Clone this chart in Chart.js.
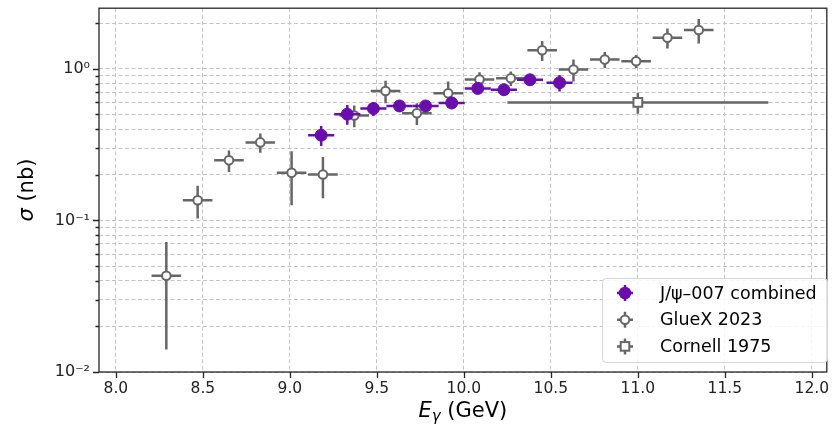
<!DOCTYPE html>
<html>
<head>
<meta charset="utf-8">
<script src="https://cdn.jsdelivr.net/npm/chart.js@4"></script>
<style>
  body { margin: 0; background: #fff; }
  canvas { display: block; }
</style>
</head>
<body>
<canvas id="chart" width="835" height="431"></canvas>
<script>
// J/psi-007 combined
const jpsiE = [9.18, 9.33, 9.48, 9.63, 9.78, 9.93, 10.08, 10.23, 10.38, 10.55];
const jpsiSigma = [0.365, 0.502, 0.547, 0.569, 0.569, 0.596, 0.743, 0.728, 0.847, 0.810];
const jpsiErr = [0.055, 0.075, 0.058, 0.05, 0.05, 0.055, 0.055, 0.055, 0.06, 0.10];
const jpsiBinHalf = 0.075;

// GlueX 2023
const gluexE = [8.29, 8.47, 8.65, 8.83, 9.01, 9.19, 9.37, 9.55, 9.73, 9.91,
                10.09, 10.27, 10.45, 10.63, 10.81, 10.99, 11.17, 11.35];
const gluexSigma = [0.0431, 0.136, 0.249, 0.327, 0.206, 0.201, 0.492, 0.714, 0.509, 0.689,
                    0.85, 0.866, 1.326, 0.989, 1.151, 1.123, 1.604, 1.802];
const gluexErr = [0.029, 0.033, 0.04, 0.047, 0.08, 0.061, 0.08, 0.12, 0.083, 0.135,
                  0.1, 0.095, 0.2, 0.165, 0.14, 0.11, 0.24, 0.33];
const gluexBinHalf = 0.085;

// Cornell 1975
const cornellE = [11.0];
const cornellSigma = [0.60];
const cornellErr = [0.095];
const cornellBinHalf = 0.75;

const xTicks = [8.0, 8.5, 9.0, 9.5, 10.0, 10.5, 11.0, 11.5, 12.0];
const yTicks = [0.01, 0.02, 0.03, 0.04, 0.05, 0.06, 0.07, 0.08, 0.09,
                0.1, 0.2, 0.3, 0.4, 0.5, 0.6, 0.7, 0.8, 0.9, 1, 2];
const yTickLabels = {0.01: '10\u207B\u00B2', 0.1: '10\u207B\u00B9', 1: '10\u2070'};

const PURPLE = '#6a0dad';
const GREY = '#666666';
const FONT = "'DejaVu Sans'";

function points(xs, ys) {
    return xs.map((x, i) => ({x: x, y: ys[i]}));
}

// error bars, drawn just before the markers of each dataset
const errorBars = {
    id: 'errorBars',
    beforeDatasetDraw(chart, args) {
        const ds = chart.data.datasets[args.index];
        if (!ds.yErr) return;
        const sx = chart.scales.x, sy = chart.scales.y, ctx = chart.ctx;
        const a = chart.chartArea;
        ctx.save();
        ctx.beginPath();
        ctx.rect(a.left, a.top, a.right - a.left, a.bottom - a.top);
        ctx.clip();
        ctx.strokeStyle = ds.borderColor;
        ctx.lineWidth = 2.5;
        ds.data.forEach((p, k) => {
            const px = sx.getPixelForValue(p.x);
            const py = sy.getPixelForValue(p.y);
            ctx.beginPath();
            ctx.moveTo(sx.getPixelForValue(p.x - ds.xHalf), py);
            ctx.lineTo(sx.getPixelForValue(p.x + ds.xHalf), py);
            ctx.moveTo(px, sy.getPixelForValue(Math.max(p.y - ds.yErr[k], 1e-4)));
            ctx.lineTo(px, sy.getPixelForValue(p.y + ds.yErr[k]));
            ctx.stroke();
        });
        ctx.restore();
    }
};

function legendMarker(ctx, kind, x, y) {
    ctx.save();
    ctx.lineWidth = 2.5;
    ctx.strokeStyle = kind === 'jpsi' ? PURPLE : GREY;
    ctx.beginPath();
    ctx.moveTo(x - 8, y); ctx.lineTo(x + 8, y);
    ctx.moveTo(x, y - 8); ctx.lineTo(x, y + 8);
    ctx.stroke();
    ctx.lineWidth = 2;
    if (kind === 'jpsi') {
        ctx.fillStyle = PURPLE;
        ctx.beginPath(); ctx.arc(x, y, 6.3, 0, Math.PI * 2); ctx.fill();
    } else if (kind === 'gluex') {
        ctx.fillStyle = '#fff';
        ctx.beginPath(); ctx.arc(x, y, 4.3, 0, Math.PI * 2); ctx.fill(); ctx.stroke();
    } else {
        ctx.fillStyle = '#fff';
        ctx.fillRect(x - 4.3, y - 4.3, 8.6, 8.6);
        ctx.strokeRect(x - 4.3, y - 4.3, 8.6, 8.6);
    }
    ctx.restore();
}

// frame, tick marks, axis titles and legend
const decorations = {
    id: 'decorations',
    afterDraw(chart) {
        const ctx = chart.ctx, a = chart.chartArea;
        const sx = chart.scales.x, sy = chart.scales.y;
        ctx.save();
        ctx.strokeStyle = '#262626';
        ctx.lineWidth = 1.3;
        ctx.strokeRect(a.left, a.top, a.right - a.left, a.bottom - a.top);
        ctx.beginPath();
        xTicks.forEach(v => {
            const px = Math.round(sx.getPixelForValue(v)) + 0.5;
            ctx.moveTo(px, a.bottom); ctx.lineTo(px, a.bottom + 6);
        });
        yTicks.forEach(v => {
            const py = Math.round(sy.getPixelForValue(v)) + 0.5;
            const len = yTickLabels[v] ? 6 : 3.5;
            ctx.moveTo(a.left, py); ctx.lineTo(a.left - len, py);
        });
        ctx.stroke();

        // axis titles
        ctx.fillStyle = '#000';
        ctx.textBaseline = 'alphabetic';
        ctx.save();
        ctx.translate(33, (a.top + a.bottom) / 2);
        ctx.rotate(-Math.PI / 2);
        const s1 = '\u03C3';
        ctx.font = 'italic 21px ' + FONT;
        const w1 = ctx.measureText(s1).width;
        ctx.font = '21px ' + FONT;
        const s2 = ' (nb)';
        const w2 = ctx.measureText(s2).width;
        let x0 = -(w1 + w2) / 2;
        ctx.font = 'italic 21px ' + FONT;
        ctx.fillText(s1, x0, 0);
        ctx.font = '21px ' + FONT;
        ctx.fillText(s2, x0 + w1, 0);
        ctx.restore();

        const cx = (a.left + a.right) / 2, by = 417;
        ctx.font = 'italic 21px ' + FONT;
        const wE = ctx.measureText('E').width;
        ctx.font = 'italic 15px ' + FONT;
        const wG = ctx.measureText('\u03B3').width;
        ctx.font = '21px ' + FONT;
        const wU = ctx.measureText(' (GeV)').width;
        let xx = cx - (wE + wG + wU) / 2;
        ctx.font = 'italic 21px ' + FONT;
        ctx.fillText('E', xx, by);
        ctx.font = 'italic 15px ' + FONT;
        ctx.fillText('\u03B3', xx + wE, by + 4);
        ctx.font = '21px ' + FONT;
        ctx.fillText(' (GeV)', xx + wE + wG, by);

        // legend
        const lx = 602, ly = 278, lw = 225, lh = 84;
        ctx.beginPath();
        ctx.roundRect(lx + 0.5, ly + 0.5, lw, lh, 4);
        ctx.fillStyle = 'rgba(255,255,255,0.85)';
        ctx.fill();
        ctx.strokeStyle = '#d6d6d6';
        ctx.lineWidth = 1;
        ctx.stroke();
        const kinds = ['jpsi', 'gluex', 'cornell'];
        ctx.font = '17.5px ' + FONT;
        ctx.textBaseline = 'middle';
        chart.data.datasets.forEach((ds, i) => {
            const yy = 293 + i * 26.7;
            legendMarker(ctx, kinds[i], 625, yy);
            ctx.fillStyle = '#000';
            ctx.fillText(ds.label, 660, yy + 1);
        });
        ctx.restore();
    }
};

function noPadding(scale) {
    scale.paddingTop = 0;
    scale.paddingBottom = 0;
    scale.paddingLeft = 0;
    scale.paddingRight = 0;
}

new Chart(document.getElementById('chart'), {
    type: 'scatter',
    data: {
        datasets: [
            {
                label: 'J/\u03C8\u2013007 combined',
                data: points(jpsiE, jpsiSigma),
                yErr: jpsiErr,
                xHalf: jpsiBinHalf,
                borderColor: PURPLE,
                backgroundColor: PURPLE,
                pointRadius: 6,
                pointBorderWidth: 1,
                order: 1,
            },
            {
                label: 'GlueX 2023',
                data: points(gluexE, gluexSigma),
                yErr: gluexErr,
                xHalf: gluexBinHalf,
                borderColor: GREY,
                backgroundColor: '#ffffff',
                pointRadius: 4.3,
                pointBorderWidth: 2,
                order: 2,
            },
            {
                label: 'Cornell 1975',
                data: points(cornellE, cornellSigma),
                yErr: cornellErr,
                xHalf: cornellBinHalf,
                borderColor: GREY,
                backgroundColor: '#ffffff',
                pointStyle: 'rect',
                pointRadius: 6.2,
                pointBorderWidth: 2,
                order: 3,
            },
        ]
    },
    options: {
        responsive: false,
        animation: false,
        devicePixelRatio: 1,
        layout: { padding: { top: 6, right: 3, left: 0, bottom: 0 } },
        plugins: {
            legend: { display: false },
            tooltip: { enabled: false },
        },
        scales: {
            x: {
                type: 'linear',
                min: 7.903,
                max: 12.086,
                afterBuildTicks: scale => { scale.ticks = xTicks.map(v => ({value: v})); },
                afterFit: scale => { scale.height = 59; noPadding(scale); },
                ticks: {
                    color: '#222',
                    padding: 8,
                    maxRotation: 0,
                    autoSkip: false,
                    font: { family: FONT, size: 15.5 },
                    callback: v => v.toFixed(1),
                },
                grid: { color: '#c4c4c4', lineWidth: 1, drawTicks: false },
                border: { display: false, dash: [4, 2.5] },
            },
            y: {
                type: 'logarithmic',
                min: 0.01,
                max: 2.512,
                afterBuildTicks: scale => { scale.ticks = yTicks.map(v => ({value: v})); },
                afterFit: scale => { scale.width = 99; noPadding(scale); },
                ticks: {
                    color: '#222',
                    padding: 9,
                    autoSkip: false,
                    font: { family: FONT, size: 16 },
                    callback: v => yTickLabels[v] || '',
                },
                grid: { color: '#c4c4c4', lineWidth: 1, drawTicks: false },
                border: { display: false, dash: [4, 2.5] },
            },
        }
    },
    plugins: [errorBars, decorations],
});
</script>
</body>
</html>
